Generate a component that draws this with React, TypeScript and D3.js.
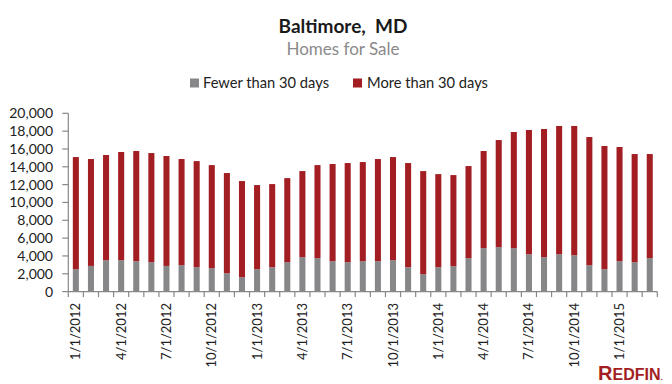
import { scaleBand, scaleLinear, stack, format } from "d3";

const width = 672;
const height = 384;

const months = [
  "1/1/2012", "2/1/2012", "3/1/2012", "4/1/2012", "5/1/2012", "6/1/2012",
  "7/1/2012", "8/1/2012", "9/1/2012", "10/1/2012", "11/1/2012", "12/1/2012",
  "1/1/2013", "2/1/2013", "3/1/2013", "4/1/2013", "5/1/2013", "6/1/2013",
  "7/1/2013", "8/1/2013", "9/1/2013", "10/1/2013", "11/1/2013", "12/1/2013",
  "1/1/2014", "2/1/2014", "3/1/2014", "4/1/2014", "5/1/2014", "6/1/2014",
  "7/1/2014", "8/1/2014", "9/1/2014", "10/1/2014", "11/1/2014", "12/1/2014",
  "1/1/2015", "2/1/2015", "3/1/2015",
];

const fewerThan30 = [
  2500, 2880, 3520, 3520, 3410, 3300, 2880, 2960, 2730, 2620, 2060, 1610,
  2510, 2730, 3300, 3860, 3750, 3410, 3300, 3410, 3410, 3520, 2730, 1950,
  2730, 2850, 3750, 4870, 4980, 4870, 4190, 3860, 4190, 4080, 2960, 2510,
  3410, 3300, 3750,
];

const moreThan30 = [
  12590, 11990, 11800, 12140, 12360, 12240, 12330, 11910, 11910, 11570, 11240, 10790,
  9440, 9330, 9430, 9660, 10440, 10900, 11120, 11120, 11460, 11570, 11690, 11570,
  10450, 10220, 10330, 10900, 12020, 13030, 13940, 14380, 14390, 14500, 14380, 13820,
  12810, 12130, 11680,
];

const yTicks = [0, 2000, 4000, 6000, 8000, 10000, 12000, 14000, 16000, 18000, 20000];

const seriesNames = ["Fewer than 30 days", "More than 30 days"];
const colors = ["#87878a", "#a21e22"];

const font = "Lato, 'Liberation Sans', sans-serif";

const App = () => {
  const rows = months.map((m, i) => ({
    month: m,
    fewer: fewerThan30[i],
    more: moreThan30[i],
  }));
  const layers = stack<(typeof rows)[number]>().keys(["fewer", "more"])(rows);

  const xScale = scaleBand<string>()
    .domain(months)
    .range([68.3, 657.3])
    .paddingInner(0.6)
    .paddingOuter(0.3);
  const yScale = scaleLinear().domain([0, 20000]).range([291.6, 113.3]);
  const fmt = format(",");
  const step = xScale.step();
  const x0 = 68.3;
  const y0 = yScale(0);

  return (
    <svg
      width={width}
      height={height}
      style={{ position: "absolute", left: 0, top: 0, background: "#fff" }}
      fontFamily={font}
    >
      <text x={343} y={33} textAnchor="middle" fontWeight="bold" fontSize={19} fill="#1a1a1a">
        {"Baltimore,\u00a0 MD"}
      </text>
      <text x={343} y={55} textAnchor="middle" fontSize={17} fill="#8a8a8a">
        Homes for Sale
      </text>

      {/* legend */}
      <rect x={190} y={78.5} width={9} height={9} fill={colors[0]} />
      <text x={203} y={88} fontSize={14.7} fill="#222">{seriesNames[0]}</text>
      <rect x={353} y={78.5} width={9} height={9} fill={colors[1]} />
      <text x={367} y={88} fontSize={14.7} fill="#222">{seriesNames[1]}</text>

      {/* bars */}
      {layers.map((layer, li) => (
        <g key={layer.key} fill={colors[li]}>
          {layer.map((d, i) => (
            <rect
              key={i}
              x={xScale(d.data.month)}
              y={yScale(d[1])}
              width={xScale.bandwidth()}
              height={yScale(d[0]) - yScale(d[1])}
            />
          ))}
        </g>
      ))}

      {/* y axis */}
      <line x1={x0} x2={x0} y1={yScale(20000)} y2={y0} stroke="#888" strokeWidth={1.2} />
      {yTicks.map((t) => (
        <g key={t}>
          <line x1={x0 - 6} x2={x0} y1={yScale(t)} y2={yScale(t)} stroke="#888" strokeWidth={1.2} />
          <text x={53} y={yScale(t)} dy="0.35em" textAnchor="end" fontSize={14} fill="#222">
            {fmt(t)}
          </text>
        </g>
      ))}

      {/* x axis */}
      <line x1={x0} x2={657.3} y1={y0} y2={y0} stroke="#888" strokeWidth={1.2} />
      {months.map((m, i) => (
        <line
          key={m}
          x1={x0 + (i + 1) * step}
          x2={x0 + (i + 1) * step}
          y1={y0}
          y2={y0 + 5.5}
          stroke="#888"
          strokeWidth={1.2}
        />
      ))}
      <line x1={x0} x2={x0} y1={y0} y2={y0 + 5.5} stroke="#888" strokeWidth={1.2} />
      {months.map((m, i) =>
        i % 3 === 0 ? (
          <text
            key={m}
            transform={`translate(${(xScale(m) ?? 0) + xScale.bandwidth() / 2},303) rotate(-90)`}
            textAnchor="end"
            dy="0.35em"
            fontSize={13}
            fill="#222"
          >
            {m}
          </text>
        ) : null
      )}

      {/* logo */}
      <text x={598} y={380} fontWeight="bold" fill="#a21e22" fontFamily="'Liberation Sans', Arial, sans-serif">
        <tspan fontSize={20}>R</tspan>
        <tspan fontSize={16}>EDFIN</tspan>
        <tspan fontSize={8}>.</tspan>
      </text>
    </svg>
  );
};

export default App;
